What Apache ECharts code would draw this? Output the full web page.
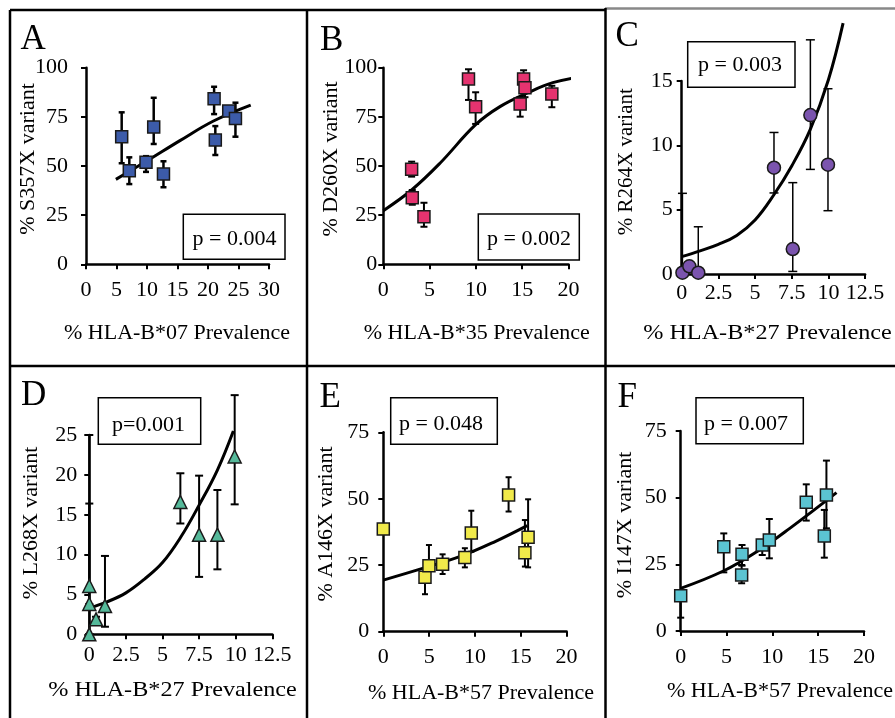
<!DOCTYPE html>
<html><head><meta charset="utf-8">
<script src="https://cdn.jsdelivr.net/npm/echarts@6.0.0/dist/echarts.min.js"></script>
<style>html,body{margin:0;padding:0;background:#fff}#c{width:895px;height:718px}</style>
</head><body><div id="c"></div>
<script>
// ---------- Panel A : S357X vs HLA-B*07 ----------
const aX   = [5.85, 7.1, 9.84, 11.1, 12.7, 21.0, 21.2, 23.4, 24.5];
const aY   = [64.9, 47.6, 51.9, 69.8, 45.9, 84.2, 63.2, 78.0, 74.1];
const aLo  = [51.4, 40.8, 47.0, 61.2, 39.2, 76.4, 55.6, 76.0, 64.9];
const aHi  = [77.3, 54.4, 55.0, 84.7, 52.4, 90.3, 70.3, 79.8, 82.2];
const aFitX = [4.9, 9.95, 15.4, 20.9, 27.0];
const aFitY = [43.2, 52.5, 62.9, 72.9, 81.0];
// ---------- Panel B : D260X vs HLA-B*35 ----------
const bX   = [3.06, 3.13, 4.39, 9.2, 9.97, 14.78, 15.15, 15.3, 18.2];
const bY   = [48.3, 33.9, 24.2, 94.3, 80.2, 81.5, 94.3, 89.8, 86.6];
const bLo  = [44.6, 30.3, 19.1, 83.6, 71.4, 75.1, 87.0, 85.0, 79.9];
const bHi  = [52.2, 37.8, 31.3, 99.2, 87.5, 85.0, 98.7, 93.0, 90.8];
const bFitX = [0, 3.06, 6.12, 9.97, 12.6, 15.5, 18.3, 21.9];
const bFitY = [27.3, 37.8, 51.4, 71.0, 80.2, 87.0, 92.4, 95.8];
// ---------- Panel C : R264X vs HLA-B*27 ----------
const cX   = [0.05, 0.52, 1.13, 6.29, 7.57, 8.77, 9.97];
const cY   = [0.1, 0.6, 0.1, 8.26, 1.94, 12.35, 8.5];
const cLo  = [0.1, 0.6, 0.1, 6.3, 0.2, 8.13, 4.92];
const cHi  = [6.27, 0.6, 3.67, 11.0, 7.1, 18.2, 14.4];
const cFitX = [0, 1.25, 2.5, 3.75, 5, 6.25, 7.5, 8.75, 10, 11];
const cFitY = [1.35, 1.8, 2.3, 3.0, 4.2, 6.1, 8.4, 11.2, 15.1, 19.5];
// ---------- Panel D : L268X vs HLA-B*27 ----------
const dX   = [0, 0, 0, 0.46, 1.07, 6.22, 7.5, 8.75, 9.93];
const dY   = [0, 3.8, 6.06, 1.88, 3.55, 16.6, 12.5, 12.5, 22.3];
const dLo  = [0, 3.8, 0, 1.2, 0.95, 13.9, 7.2, 8.15, 16.3];
const dHi  = [0, 16.4, 25, 2.2, 9.83, 20.2, 19.9, 18.1, 30.0];
const dFitX = [0, 1.25, 2.5, 3.75, 5, 6.25, 7.5, 8.75, 9.84];
const dFitY = [3.3, 4.1, 5.2, 6.9, 9.0, 12.2, 16.2, 20.6, 25.5];
// ---------- Panel E : A146X vs HLA-B*57 ----------
const eX   = [0, 4.55, 4.98, 6.47, 8.9, 9.6, 13.67, 15.45, 15.8];
const eY   = [38.6, 20.5, 24.8, 25.4, 27.9, 37.1, 51.4, 29.7, 35.5];
const eLo  = [38.6, 14.1, 24.8, 21.7, 24.2, 30.1, 45.2, 24.5, 24.2];
const eHi  = [38.6, 20.5, 32.6, 29.1, 31.4, 45.5, 58.1, 42.0, 49.8];
const eFitX = [0, 4.37, 8.55, 12.2, 15.7];
const eFitY = [19.4, 23.9, 28.5, 33.9, 39.9];
// ---------- Panel F : I147X vs HLA-B*57 ----------
const fX   = [0, 4.7, 6.65, 6.69, 8.9, 9.67, 13.7, 15.67, 15.9];
const fY   = [13.25, 31.6, 21.0, 28.75, 32.25, 34.1, 48.25, 35.6, 51.0];
const fLo  = [5.0, 22.0, 17.9, 24.5, 28.5, 27.25, 41.4, 27.5, 38.5];
const fHi  = [13.25, 36.6, 24.75, 32.25, 33.5, 42.0, 55.0, 45.4, 63.9];
const fFitX = [0, 4.65, 8.3, 11.9, 17.0];
const fFitY = [16.0, 22.5, 29.75, 38.5, 51.9];

// ---------- texts ----------
const letters  = ['A', 'B', 'C', 'D', 'E', 'F'];
const pTexts   = ['p = 0.004', 'p = 0.002', 'p = 0.003', 'p=0.001', 'p = 0.048', 'p = 0.007'];
const yNames   = ['% S357X variant', '% D260X variant', '% R264X variant', '% L268X variant', '% A146X variant', '% I147X variant'];
const xNames   = ['% HLA-B*07 Prevalence', '% HLA-B*35 Prevalence', '% HLA-B*27 Prevalence', '% HLA-B*27 Prevalence', '% HLA-B*57 Prevalence', '% HLA-B*57 Prevalence'];
// axis ranges [min, max, interval]
const xRanges = [[0, 30, 5], [0, 20, 5], [0, 12.5, 2.5], [0, 12.5, 2.5], [0, 20, 5], [0, 20, 5]];
const yRanges = [[0, 100, 25], [0, 100, 25], [0, 15, 5], [0, 25, 5], [0, 75, 25], [0, 75, 25]];

// ---------- layout & style ----------
const FONT = 'Liberation Serif';
const grids = [
  {left: 86,    top: 67.7,  width: 183,   height: 196.6},
  {left: 383.3, top: 67.7,  width: 185.2, height: 196.6},
  {left: 681.7, top: 81,    width: 183.4, height: 193},
  {left: 89.3,  top: 435,   width: 183,   height: 199.3},
  {left: 383.3, top: 432.3, width: 183.3, height: 199.4},
  {left: 680.7, top: 431,   width: 183.3, height: 200}
];
const yLabMargin = [18, 6, 9, 12, 14, 14];
const xLabMargin = [15, 15, 8, 10, 15, 15];
const symbols = ['rect', 'rect', 'circle', 'triangle', 'rect', 'rect'];
const symSize = [12, 12, 13, 13, 12, 12];
const colors  = ['#3C5BA9', '#E5336F', '#7B54AE', '#55B99A', '#F1EA4A', '#5BC4D2'];
const errW    = [2.5, 2, 1.5, 2, 2, 2];
const capW    = [6, 7, 9, 8, 6, 7];
const letterPos = [[20.5, 40], [320, 40.5], [615.5, 36.7], [21, 396], [319.5, 397.5], [617.5, 397.5]];
const pBoxes = [[183.3, 214.3, 101.7, 45], [478.3, 214, 101, 46], [687.7, 41.7, 107.3, 45.6], [98.3, 397.7, 102.4, 46.6], [390.7, 397.7, 106.6, 46.6], [696, 397.7, 107.3, 46]];
const pTextPos = [[234.5, 239.5], [529, 239.5], [740, 65.5], [148.5, 425], [441, 424.5], [746, 424.5]];
const xNamePos = [[177, 333], [476.7, 333], [767.5, 333], [172.5, 690], [481, 693], [780, 691.5]];
const yNamePos = [[28.3, 159], [331, 159], [626, 161.7], [31, 523], [326, 524], [625, 525]];
const nameScaleX = [1, 1, 1.1, 1.1, 1, 1];
const yNameSize = [22, 22, 21, 22, 22, 22];

const data = [
  [aX, aY, aLo, aHi, aFitX, aFitY],
  [bX, bY, bLo, bHi, bFitX, bFitY],
  [cX, cY, cLo, cHi, cFitX, cFitY],
  [dX, dY, dLo, dHi, dFitX, dFitY],
  [eX, eY, eLo, eHi, eFitX, eFitY],
  [fX, fY, fLo, fHi, fFitX, fFitY]
];

function errRender(cw, lw) {
  return function (params, api) {
    const x = api.value(0), lo = api.value(1), hi = api.value(2);
    const p1 = api.coord([x, lo]), p2 = api.coord([x, hi]);
    const st = {stroke: '#000', lineWidth: lw};
    return {type: 'group', children: [
      {type: 'line', shape: {x1: p1[0], y1: p1[1], x2: p2[0], y2: p2[1]}, style: st},
      {type: 'line', shape: {x1: p2[0] - cw / 2, y1: p2[1], x2: p2[0] + cw / 2, y2: p2[1]}, style: st},
      {type: 'line', shape: {x1: p1[0] - cw / 2, y1: p1[1], x2: p1[0] + cw / 2, y2: p1[1]}, style: st}
    ]};
  };
}

const xAxis = [], yAxis = [], series = [], graphic = [];
for (let i = 0; i < 6; i++) {
  const [px, py, plo, phi, ffx, ffy] = data[i];
  xAxis.push({
    gridIndex: i, type: 'value', min: xRanges[i][0], max: xRanges[i][1], interval: xRanges[i][2],
    axisLine: {show: true, onZero: false, lineStyle: {color: '#000', width: 2.5}},
    axisTick: {show: true, length: 5, lineStyle: {color: '#000', width: 2}},
    splitLine: {show: false},
    axisLabel: {color: '#000', fontFamily: FONT, fontSize: 22, margin: xLabMargin[i], showMinLabel: true, showMaxLabel: true}
  });
  yAxis.push({
    gridIndex: i, type: 'value', min: yRanges[i][0], max: yRanges[i][1], interval: yRanges[i][2],
    axisLine: {show: true, onZero: false, lineStyle: {color: '#000', width: 2.5}},
    axisTick: {show: true, length: 5, lineStyle: {color: '#000', width: 2}},
    splitLine: {show: false},
    axisLabel: {color: '#000', fontFamily: FONT, fontSize: 22, margin: yLabMargin[i], showMinLabel: true, showMaxLabel: true}
  });
  series.push({
    type: 'custom', xAxisIndex: i, yAxisIndex: i, clip: false, z: 2,
    renderItem: errRender(capW[i], errW[i]),
    encode: {x: 0, y: [1, 2]},
    data: px.map((x, k) => [x, plo[k], phi[k]])
  });
  series.push({
    type: 'line', xAxisIndex: i, yAxisIndex: i, clip: false, z: 3,
    smooth: 0.4, showSymbol: false, symbol: 'none',
    lineStyle: {color: '#000', width: 3},
    data: ffx.map((x, k) => [x, ffy[k]])
  });
  series.push({
    type: 'scatter', xAxisIndex: i, yAxisIndex: i, clip: false, z: 4,
    symbol: symbols[i], symbolSize: symSize[i],
    itemStyle: {color: colors[i], borderColor: '#1a1a1a', borderWidth: 1.5, opacity: 1},
    data: px.map((x, k) => [x, py[k]])
  });
  // panel letter
  graphic.push({type: 'text', x: letterPos[i][0], y: letterPos[i][1], z: 10,
    style: {text: letters[i], fontFamily: FONT, fontSize: 35, fill: '#000', align: 'left', verticalAlign: 'middle'}});
  // p-value box
  const b = pBoxes[i];
  graphic.push({type: 'rect', shape: {x: b[0], y: b[1], width: b[2], height: b[3]}, z: 10,
    style: {fill: '#fff', stroke: '#000', lineWidth: 1.5}});
  graphic.push({type: 'text', x: pTextPos[i][0], y: pTextPos[i][1], z: 11,
    style: {text: pTexts[i], fontFamily: FONT, fontSize: 22, fill: '#000', align: 'center', verticalAlign: 'middle'}});
  // axis titles
  graphic.push({type: 'text', x: xNamePos[i][0], y: xNamePos[i][1], scaleX: nameScaleX[i], z: 10,
    style: {text: xNames[i], fontFamily: FONT, fontSize: 22, fill: '#000', align: 'center', verticalAlign: 'middle'}});
  graphic.push({type: 'text', x: yNamePos[i][0], y: yNamePos[i][1], rotation: Math.PI / 2, z: 10,
    style: {text: yNames[i], fontFamily: FONT, fontSize: yNameSize[i], fill: '#000', align: 'center', verticalAlign: 'middle'}});
}
// panel borders
const borderLines = [
  [10, 10, 10, 718, '#000'], [10, 10, 605, 10, '#000'], [605, 8.5, 895, 8.5, '#888'],
  [307, 10, 307, 718, '#000'], [605.5, 8, 605.5, 718, '#000'], [10, 366, 895, 366, '#000']
];
borderLines.forEach(l => graphic.push({type: 'line', z: 12,
  shape: {x1: l[0], y1: l[1], x2: l[2], y2: l[3]}, style: {stroke: l[4], lineWidth: 2.5}}));

const chart = echarts.init(document.getElementById('c'), null, {renderer: 'canvas'});
chart.setOption({
  animation: false,
  backgroundColor: '#fff',
  grid: grids.map(g => Object.assign({containLabel: false}, g)),
  xAxis, yAxis, series, graphic
});
</script></body></html>
